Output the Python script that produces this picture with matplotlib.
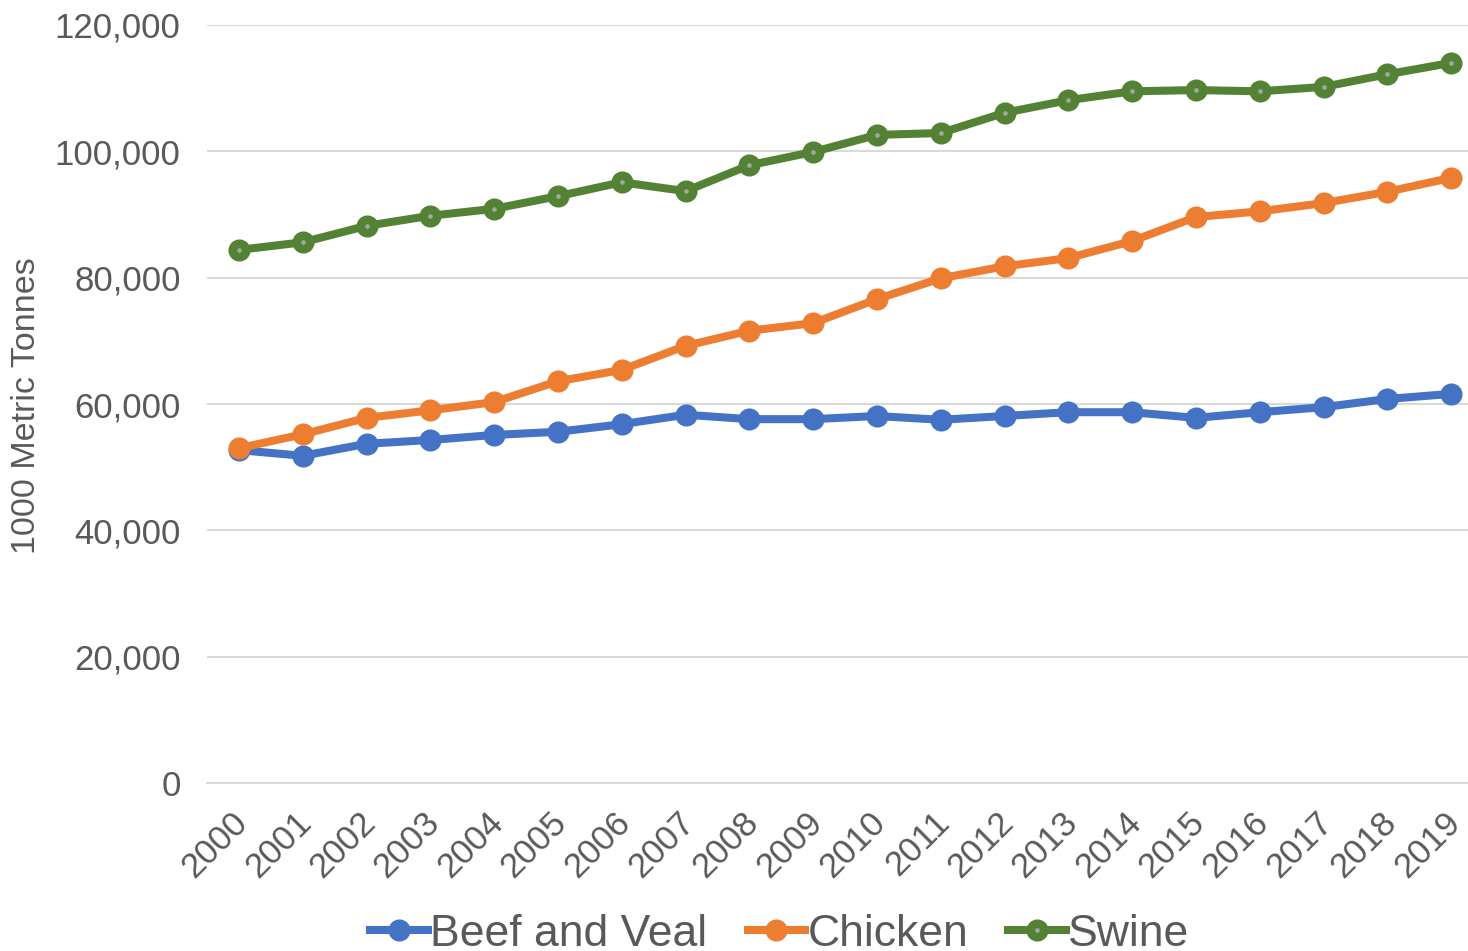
import matplotlib
matplotlib.use("Agg")
import matplotlib.pyplot as plt
from matplotlib.ticker import FuncFormatter
from matplotlib.transforms import ScaledTranslation

plt.rcParams['font.family'] = ['Liberation Sans', 'DejaVu Sans']

years = [str(y) for y in range(2000, 2020)]

# 1000 metric tonnes
beef_and_veal = [52.7, 51.8, 53.7, 54.3, 55.1, 55.6, 56.8, 58.3, 57.6, 57.6,
                 58.1, 57.5, 58.1, 58.7, 58.7, 57.8, 58.7, 59.5, 60.8, 61.6]
chicken = [53.0, 55.2, 57.8, 59.0, 60.3, 63.6, 65.4, 69.2, 71.6, 72.8,
           76.6, 79.9, 81.8, 83.1, 85.8, 89.6, 90.5, 91.8, 93.6, 95.8]
swine = [84.4, 85.6, 88.2, 89.8, 90.9, 92.9, 95.1, 93.7, 97.8, 99.9,
         102.6, 102.9, 106.1, 108.1, 109.5, 109.7, 109.5, 110.2, 112.2, 114.0]

beef_and_veal = [v * 1000 for v in beef_and_veal]
chicken = [v * 1000 for v in chicken]
swine = [v * 1000 for v in swine]

text_color = '#595959'

fig = plt.figure(figsize=(14.68, 9.51), dpi=100)
ax = fig.add_axes([207 / 1468, 168 / 951, 1276 / 1468, 758 / 951])

x = range(len(years))
style = dict(linewidth=5.8, marker='o', markersize=9.7, markeredgewidth=6.2)
ax.plot(x, beef_and_veal, color='#4472C4', markerfacecolor='#4472C4',
        markeredgecolor='#4472C4', label='Beef and Veal', **style)
ax.plot(x, chicken, color='#ED7D31', markerfacecolor='#ED7D31',
        markeredgecolor='#ED7D31', label='Chicken', **style)
ax.plot(x, swine, color='#548235', markerfacecolor='#A5A5A5',
        markeredgecolor='#548235', label='Swine', **style)

ax.set_xlim(-0.5, 19.5)
ax.set_ylim(0, 120000)
ax.set_yticks(range(0, 120001, 20000))
ax.yaxis.set_major_formatter(FuncFormatter(lambda v, p: f'{int(v):,}'))
ax.set_xticks(list(x))
ax.set_xticklabels(years, rotation=45, ha='right', va='top', rotation_mode='anchor')

ax.grid(axis='y', color='#D9D9D9', linewidth=1.5)
ax.set_axisbelow(True)
for s in ax.spines.values():
    s.set_visible(False)
ax.spines['bottom'].set_visible(True)
ax.spines['bottom'].set_color('#D9D9D9')
ax.spines['bottom'].set_linewidth(1.5)

ax.tick_params(axis='y', length=0, pad=19, labelsize=25, labelcolor=text_color)
ax.tick_params(axis='x', length=0, pad=14, labelsize=25, labelcolor=text_color)

# nudge the slanted year labels so they end just right of their tick
shift = ScaledTranslation(-8 / 100, -3 / 100, fig.dpi_scale_trans)
for lbl in ax.get_xticklabels():
    lbl.set_transform(lbl.get_transform() + shift)

fig.text(27 / 1468, 0.574, '1000 Metric Tonnes', rotation=90, ha='center', va='center',
         fontsize=24.5, color=text_color)

leg = fig.legend(loc='center', bbox_to_anchor=(780 / 1468, 17 / 951), ncol=3,
                 frameon=False, fontsize=32, handlelength=1.3, handletextpad=0.05,
                 columnspacing=0.9, borderaxespad=0, borderpad=0)
for t in leg.get_texts():
    t.set_color(text_color)

fig.savefig('out.png', dpi=100)
